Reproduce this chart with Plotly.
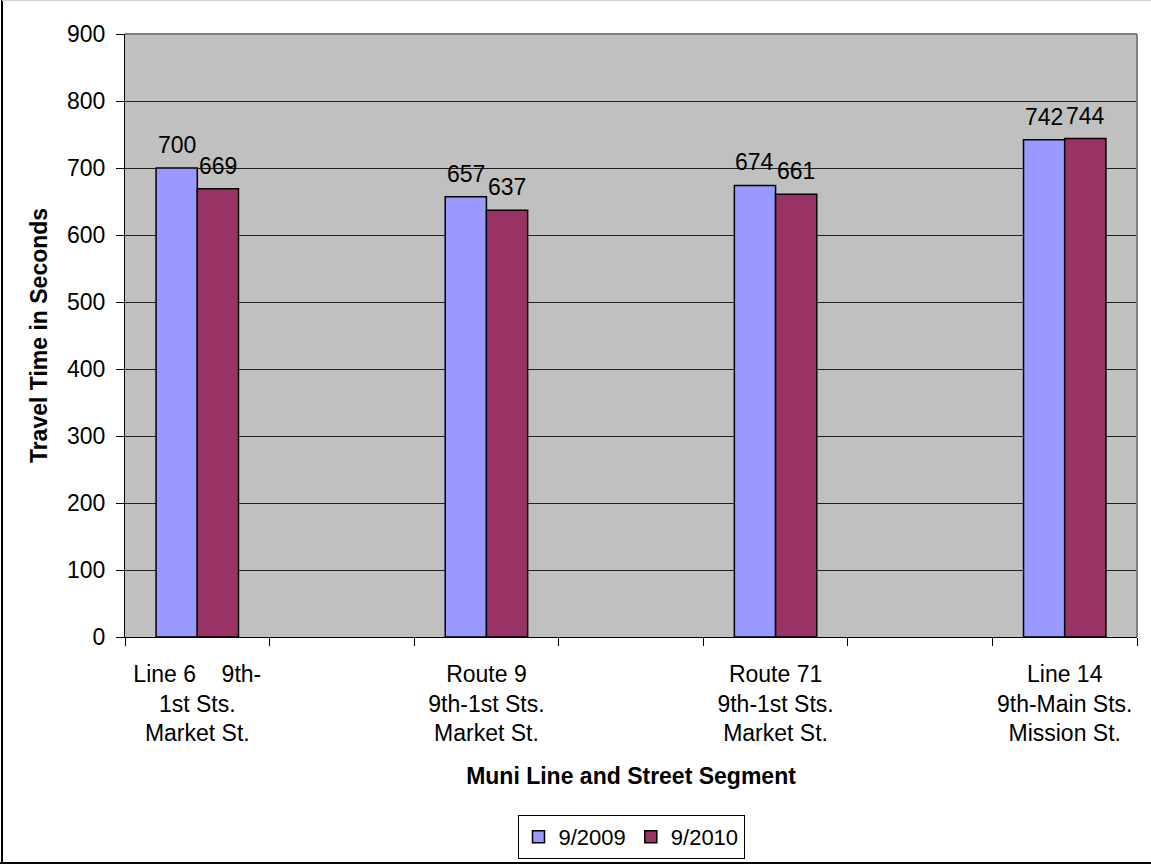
import plotly.graph_objects as go

# Street segments (empty slots keep the wide spacing between groups)
segments = [
    "Line 6\u00a0\u00a0\u00a0 9th-<br>1st Sts.<br>Market St.",
    " ",
    "Route 9<br>9th-1st Sts.<br>Market St.",
    "  ",
    "Route 71<br>9th-1st Sts.<br>Market St.",
    "   ",
    "Line 14<br>9th-Main Sts.<br>Mission St.",
]
sep_2009 = [700, None, 657, None, 674, None, 742]
sep_2010 = [669, None, 637, None, 661, None, 744]
y_ticks = [0, 100, 200, 300, 400, 500, 600, 700, 800, 900]

FONT = "Liberation Sans, Arial, sans-serif"
W, H = 1151, 865
ML, MR, MT, MB = 125, 14, 34, 228
PW, PH = W - ML - MR, H - MT - MB
BARGAP = 0.43
SLOT_PX = PW / len(segments)
BAR_PX = SLOT_PX * (1 - BARGAP) / 2


def px_x(p):
    return (p - ML) / PW


def px_y(p):
    return (H - MB - p) / PH


fig = go.Figure()
fig.add_trace(go.Bar(
    name="9/2009", x=segments, y=sep_2009,
    marker=dict(color="#9999FF", line=dict(color="black", width=1.5)),
))
fig.add_trace(go.Bar(
    name="9/2010", x=segments, y=sep_2010,
    marker=dict(color="#993366", line=dict(color="black", width=1.5)),
))

# Value labels above each bar
for vals, side in ((sep_2009, -1), (sep_2010, 1)):
    for cat, v in zip(segments, vals):
        if v is None:
            continue
        fig.add_annotation(
            x=cat, y=v, text=str(v), showarrow=False,
            xanchor="center", yanchor="bottom",
            xshift=side * BAR_PX / 2, yshift=8,
            font=dict(family=FONT, size=23, color="black"),
        )

# Plot frame (grey top and right edges) and outer chart border
fig.add_shape(type="line", xref="paper", yref="paper", x0=0, x1=1, y0=1, y1=1,
              line=dict(color="#808080", width=2))
fig.add_shape(type="line", xref="paper", yref="paper", x0=1, x1=1, y0=0, y1=1,
              line=dict(color="#808080", width=2))
fig.add_shape(type="line", xref="paper", yref="paper",
              x0=px_x(2), x1=px_x(2), y0=px_y(0), y1=px_y(863),
              line=dict(color="black", width=2))
fig.add_shape(type="line", xref="paper", yref="paper",
              x0=px_x(0), x1=px_x(W), y0=px_y(863), y1=px_y(863),
              line=dict(color="black", width=2))
fig.add_shape(type="line", xref="paper", yref="paper",
              x0=px_x(2), x1=px_x(W), y0=px_y(0.5), y1=px_y(0.5),
              line=dict(color="#D0D0D0", width=1))

fig.update_layout(
    width=W, height=H,
    margin=dict(l=ML, r=MR, t=MT, b=MB, pad=0, autoexpand=False),
    paper_bgcolor="white",
    plot_bgcolor="#C0C0C0",
    barmode="group",
    bargap=BARGAP,
    bargroupgap=0,
    font=dict(family=FONT, size=23, color="black"),
    showlegend=True,
    legend=dict(
        orientation="h", x=0.5, xanchor="center", y=px_y(815), yanchor="top",
        bordercolor="black", borderwidth=1, bgcolor="white",
        font=dict(family=FONT, size=22, color="black"),
        itemwidth=30, tracegroupgap=0,
    ),
    xaxis=dict(
        type="category", tickson="boundaries", ticks="outside", ticklen=8,
        tickcolor="black", showline=True, linecolor="black", linewidth=1,
        showgrid=False, tickangle=0, ticklabelstandoff=16,
        tickfont=dict(family=FONT, size=23, color="black"),
        title=dict(text="<b>Muni Line and Street Segment</b>", standoff=22,
                   font=dict(family=FONT, size=23, color="black")),
    ),
    yaxis=dict(
        range=[0, 900], tickvals=y_ticks, ticks="outside", ticklen=8,
        tickcolor="black", showline=True, linecolor="black", linewidth=1,
        showgrid=True, gridcolor="#202020", gridwidth=1, zeroline=False,
        ticklabelstandoff=6,
        tickfont=dict(family=FONT, size=23, color="black"),
        title=dict(text="<b>Travel Time in Seconds</b>", standoff=12,
                   font=dict(family=FONT, size=23, color="black")),
    ),
)

fig.write_html("out.html")
